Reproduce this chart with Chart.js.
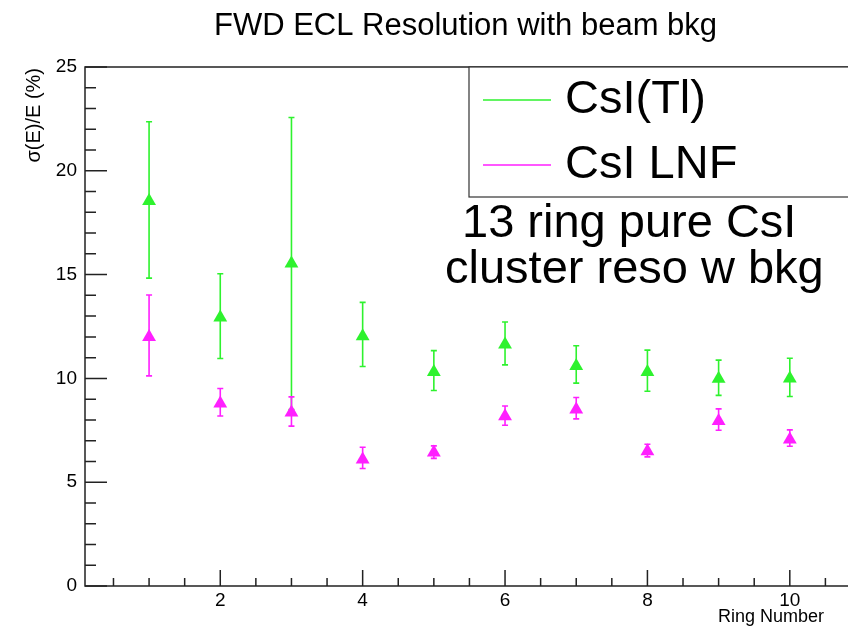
<!DOCTYPE html>
<html>
<head>
<meta charset="utf-8">
<title>FWD ECL Resolution with beam bkg</title>
<script src="https://cdn.jsdelivr.net/npm/chart.js@4.4.1/dist/chart.umd.min.js"></script>
<style>
  html, body { margin: 0; padding: 0; background: #fff; overflow: hidden; }
  #wrap { width: 848px; height: 634px; overflow: hidden; }
</style>
</head>
<body>
<div id="wrap"><canvas id="resoChart" width="880" height="634"></canvas></div>
<script>
// ring numbers and resolution values (sigma(E)/E in %)
const rings = [1, 2, 3, 4, 5, 6, 7, 8, 9, 10];

const csiTl     = [18.55, 12.93, 15.54, 12.03, 10.31, 11.63, 10.60, 10.31, 9.98, 10.00];
const csiTlLow  = [14.83, 10.96,  8.50, 10.57,  9.42, 10.65,  9.77,  9.38, 9.18,  9.13];
const csiTlHigh = [22.36, 15.04, 22.57, 13.66, 11.34, 12.72, 11.57, 11.36, 10.88, 10.97];

const csiLnf     = [12.00, 8.79, 8.36, 6.09, 6.43, 8.18, 8.50, 6.49, 7.95, 7.06];
const csiLnfLow  = [10.12, 8.19, 7.70, 5.66, 6.15, 7.74, 8.05, 6.22, 7.50, 6.73];
const csiLnfHigh = [14.02, 9.51, 9.11, 6.68, 6.75, 8.67, 9.08, 6.83, 8.53, 7.52];

const xTicks = [2, 4, 6, 8, 10];
const yTicks = [0, 5, 10, 15, 20, 25];

const GREEN = '#2ef22e';
const MAGENTA = '#ff1fff';
const FONT = '"Liberation Sans", Arial, Helvetica, sans-serif';

function toPoints(xs, ys, lo, hi) {
    return xs.map((x, i) => ({ x: x, y: ys[i], lo: lo[i], hi: hi[i] }));
}

// error bars under the markers
const errorBars = {
    id: 'errorBars',
    beforeDatasetsDraw(chart) {
        const ctx = chart.ctx;
        const xs = chart.scales.x, ys = chart.scales.y;
        chart.data.datasets.forEach(ds => {
            ctx.save();
            ctx.strokeStyle = ds.borderColor;
            ctx.lineWidth = 1.6;
            ds.data.forEach(p => {
                const px = xs.getPixelForValue(p.x);
                const top = ys.getPixelForValue(p.hi);
                const bot = ys.getPixelForValue(p.lo);
                ctx.beginPath();
                ctx.moveTo(px, top); ctx.lineTo(px, bot);
                ctx.moveTo(px - 3, top); ctx.lineTo(px + 3, top);
                ctx.moveTo(px - 3, bot); ctx.lineTo(px + 3, bot);
                ctx.stroke();
            });
            ctx.restore();
        });
    }
};

// ROOT style frame, inner ticks, legend box and texts
const rootFrame = {
    id: 'rootFrame',
    afterDraw(chart) {
        const ctx = chart.ctx;
        const a = chart.chartArea;
        const xs = chart.scales.x, ys = chart.scales.y;
        ctx.save();
        ctx.strokeStyle = '#222';
        ctx.lineWidth = 1.5;
        ctx.beginPath();
        ctx.moveTo(a.right + 30, a.top); ctx.lineTo(a.left, a.top);
        ctx.lineTo(a.left, a.bottom); ctx.lineTo(a.right + 30, a.bottom);
        ctx.stroke();

        // y ticks: major every 5, minor every 1
        ctx.beginPath();
        for (let v = 0; v <= 25; v++) {
            const py = ys.getPixelForValue(v);
            const len = v % 5 === 0 ? 22 : 11;
            ctx.moveTo(a.left, py); ctx.lineTo(a.left + len, py);
        }
        // x ticks: major every 2, minor every 0.5
        for (let v = 0.5; v <= 11; v += 0.5) {
            const px = xs.getPixelForValue(v);
            const len = v % 2 === 0 ? 16 : 8;
            ctx.moveTo(px, a.bottom); ctx.lineTo(px, a.bottom - len);
        }
        ctx.stroke();

        // title
        ctx.fillStyle = '#000';
        ctx.font = '31px ' + FONT;
        ctx.textAlign = 'left';
        ctx.textBaseline = 'alphabetic';
        ctx.fillText('FWD ECL Resolution with beam bkg', 214, 35);

        // axis titles
        ctx.font = '18px ' + FONT;
        ctx.textAlign = 'right';
        ctx.fillText('Ring Number', 824, 622);
        ctx.save();
        ctx.translate(40, 68);
        ctx.rotate(-Math.PI / 2);
        ctx.font = '20px ' + FONT;
        ctx.textAlign = 'right';
        ctx.fillText('\u03c3(E)/E (%)', 0, 0);
        ctx.restore();

        // legend box
        ctx.lineWidth = 1.2;
        ctx.strokeStyle = '#333';
        ctx.fillStyle = '#fff';
        ctx.fillRect(469, 67, 420, 130);
        ctx.strokeRect(469, 67, 420, 130);
        ctx.font = '47px ' + FONT;
        ctx.textAlign = 'left';
        const rowY = [100, 165];
        chart.data.datasets.forEach((ds, i) => {
            ctx.strokeStyle = ds.borderColor;
            ctx.lineWidth = 1.5;
            ctx.beginPath();
            ctx.moveTo(483, rowY[i]); ctx.lineTo(551, rowY[i]);
            ctx.stroke();
            ctx.fillStyle = '#000';
            ctx.fillText(ds.label, 565, rowY[i] + 13);
        });

        // annotation
        ctx.fillText('13 ring pure CsI', 462, 237);
        ctx.fillText('cluster reso w bkg', 445, 283);
        ctx.restore();
    }
};

new Chart(document.getElementById('resoChart'), {
    type: 'scatter',
    data: {
        datasets: [
            {
                label: 'CsI(Tl)',
                data: toPoints(rings, csiTl, csiTlLow, csiTlHigh),
                borderColor: GREEN,
                backgroundColor: GREEN,
                pointStyle: 'triangle',
                pointRadius: 8,
                pointBorderWidth: 0,
                showLine: false
            },
            {
                label: 'CsI LNF',
                data: toPoints(rings, csiLnf, csiLnfLow, csiLnfHigh),
                borderColor: MAGENTA,
                backgroundColor: MAGENTA,
                pointStyle: 'triangle',
                pointRadius: 8,
                pointBorderWidth: 0,
                showLine: false
            }
        ]
    },
    options: {
        responsive: false,
        animation: false,
        events: [],
        layout: { padding: { top: 67, right: 19, left: 0, bottom: 0 } },
        plugins: {
            legend: { display: false },
            title: { display: false },
            tooltip: { enabled: false }
        },
        scales: {
            x: {
                type: 'linear',
                min: 0.1,
                max: 11,
                grid: { display: false, drawTicks: false },
                border: { display: false },
                afterBuildTicks: s => { s.ticks = xTicks.map(v => ({ value: v })); },
                afterFit: s => { s.height = 48; },
                ticks: {
                    color: '#000',
                    padding: 3,
                    maxRotation: 0,
                    font: { family: FONT, size: 19 }
                }
            },
            y: {
                type: 'linear',
                min: 0,
                max: 25,
                grid: { display: false, drawTicks: false },
                border: { display: false },
                afterBuildTicks: s => { s.ticks = yTicks.map(v => ({ value: v })); },
                afterFit: s => { s.width = 85; },
                ticks: {
                    color: '#000',
                    padding: 8,
                    font: { family: FONT, size: 19 }
                }
            }
        }
    },
    plugins: [errorBars, rootFrame]
});
</script>
</body>
</html>
